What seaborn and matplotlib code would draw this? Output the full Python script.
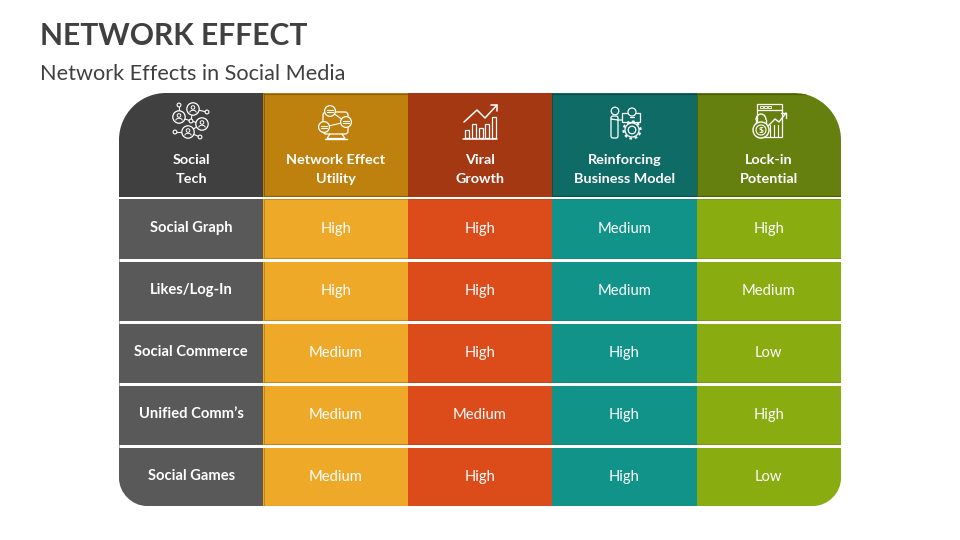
import numpy as np
import matplotlib
matplotlib.use("Agg")
import matplotlib.pyplot as plt
import seaborn as sns
from matplotlib.colors import ListedColormap
from matplotlib.patches import Circle, FancyBboxPatch, Rectangle, Arc
from matplotlib.path import Path

# === Table content ===
title = "NETWORK EFFECT"
subtitle = "Network Effects in Social Media"
headers = [
    "Social\nTech",
    "Network Effect\nUtility",
    "Viral\nGrowth",
    "Reinforcing\nBusiness Model",
    "Lock-in\nPotential",
]
social_tech = ["Social Graph", "Likes/Log-In", "Social Commerce", "Unified Comm\u2019s", "Social Games"]
utility = ["High", "High", "Medium", "Medium", "Medium"]
viral = ["High", "High", "High", "Medium", "High"]
business = ["Medium", "Medium", "High", "High", "High"]
lock_in = ["High", "Medium", "Low", "High", "Low"]

header_colors = ["#404040", "#BF810E", "#A33812", "#0F6B66", "#65800F"]
body_colors = ["#595959", "#EFA928", "#DB4C1A", "#119389", "#89AD11"]
edge_colors = ["#595959", "#C9860F", "#C8450F", "#0F8A80", "#7A9A0E"]
header_edges = ["#404040", "#8A6209", "#A33812", "#0A4F4B", "#4C600B"]

sns.set_theme(style="white")
plt.rcParams["font.family"] = ["Lato", "DejaVu Sans"]

fig = plt.figure(figsize=(9.6, 5.4), dpi=100)
W, H = 960, 540
LEFT, RIGHT = 119, 841


def px_axes(x0, y0, x1, y1):
    return fig.add_axes([x0 / W, 1 - y1 / H, (x1 - x0) / W, (y1 - y0) / H])


def rounded_outline(x0, y0, x1, y1, r_top, r_bottom):
    # rectangle in pixel coords with circular outer corners
    k = 0.45
    verts = [(x0 + r_top, y0), (x1 - r_top, y0)]
    codes = [Path.MOVETO, Path.LINETO]
    verts += [(x1 - r_top * k, y0), (x1, y0 + r_top * k), (x1, y0 + r_top)]
    verts += [(x1, y1 - r_bottom)]
    verts += [(x1, y1 - r_bottom * k), (x1 - r_bottom * k, y1), (x1 - r_bottom, y1)]
    verts += [(x0 + r_bottom, y1)]
    verts += [(x0 + r_bottom * k, y1), (x0, y1 - r_bottom * k), (x0, y1 - r_bottom)]
    verts += [(x0, y0 + r_top)]
    verts += [(x0, y0 + r_top * k), (x0 + r_top * k, y0), (x0 + r_top, y0)]
    verts += [(x0 + r_top, y0)]
    codes += [Path.CURVE4] * 3 + [Path.LINETO] + [Path.CURVE4] * 3 + [Path.LINETO]
    codes += [Path.CURVE4] * 3 + [Path.LINETO] + [Path.CURVE4] * 3 + [Path.CLOSEPOLY]
    return Path(verts, codes)


# overlay in pixel coordinates, for clip shapes, title and icons
overlay = fig.add_axes([0, 0, 1, 1], zorder=5)
overlay.set_xlim(0, W)
overlay.set_ylim(H, 0)
overlay.axis("off")

# === Header row ===
ax_head = px_axes(LEFT, 93, RIGHT, 197)
sns.heatmap(
    np.arange(5).reshape(1, 5),
    cmap=ListedColormap(header_colors),
    cbar=False,
    xticklabels=False,
    yticklabels=False,
    ax=ax_head,
)
head_clip = rounded_outline(LEFT, 93, RIGHT, 197, 47, 0)
ax_head.collections[0].set_clip_path(head_clip, transform=overlay.transData)
for i, label in enumerate(headers):
    # two lines placed one by one, the spacing is wider than the font's own
    for part, base in zip(label.split("\n"), [0.683, 0.868]):
        ax_head.text(i + 0.5, base, part, color="white", fontsize=10.4, fontweight="bold",
                     ha="center", va="baseline")
    # darker frame on the header cells
    if i > 0:
        frame = ax_head.hlines([0.006, 0.992], i, i + 1, color=header_edges[i], lw=0.9)
        frame.set_clip_path(head_clip, transform=overlay.transData)
        ax_head.vlines(i + 0.002, 0, 1, color=header_edges[i], lw=0.7)

# === Body rows ===
ratings = np.column_stack([social_tech, utility, viral, business, lock_in])
# axes run one gap past the last row, the clip shape cuts that part off
ax_body = px_axes(LEFT, 199, RIGHT, 509)
sns.heatmap(
    np.tile(np.arange(5), (5, 1)),
    cmap=ListedColormap(body_colors),
    cbar=False,
    annot=ratings,
    fmt="",
    annot_kws={"color": "white", "fontsize": 10.6},
    xticklabels=False,
    yticklabels=False,
    ax=ax_body,
)
body_clip = rounded_outline(LEFT, 199, RIGHT, 506, 0, 28)
ax_body.collections[0].set_clip_path(body_clip, transform=overlay.transData)
for t in ax_body.texts:
    x, y = t.get_position()
    t.set_y(y - 0.01)
    if x < 1:
        t.set_fontweight("bold")
        t.set_y(y - 0.026)

# thin darker frame round the cells, white gap between rows
for c in range(1, 5):
    under = ax_body.hlines(np.arange(5) + 0.944, c, c + 1, color=edge_colors[c], lw=0.8)
    under.set_clip_path(body_clip, transform=overlay.transData)
    ax_body.hlines(np.arange(5) + 0.006, c, c + 1, color=edge_colors[c], lw=0.6)
side = ax_body.vlines(1.002, 0, 5, color=edge_colors[1], lw=0.7)
side.set_clip_path(body_clip, transform=overlay.transData)
ax_body.hlines(np.arange(4) + 0.976, 0, 5, color="white", lw=2.16)

# === Title ===
overlay.text(40, 36, title, fontsize=21.6, fontweight="bold", color="#404040", ha="left", va="center")
overlay.text(40, 74, subtitle, fontsize=15.55, color="#404040", ha="left", va="center")


# === Line icons, drawn as plain strokes in white ===
def line(xs, ys, lw=1.0, zorder=2):
    overlay.plot(xs, ys, color="white", lw=lw, solid_capstyle="round", solid_joinstyle="round", zorder=zorder)


def ring(x, y, r, face="none", lw=1.0, **kw):
    overlay.add_patch(Circle((x, y), r, fc=face, ec="white", lw=lw, zorder=3, **kw))


def box(x, y, w, h, face="none", lw=1.0):
    overlay.add_patch(Rectangle((x, y), w, h, fc=face, ec="white", lw=lw, zorder=3))


# social tech: linked people
for a, b in [((179, 105), (179, 117)), ((193, 109), (207, 112)), ((179, 117), (191, 121)),
             ((191, 121), (202, 124)), ((193, 109), (191, 121)), ((175, 132), (188, 132)),
             ((188, 132), (200, 137)), ((202, 124), (188, 132))]:
    line([a[0], b[0]], [a[1], b[1]], 0.8)
for x, y in [(193, 109), (179, 117), (202, 124), (188, 132)]:
    ring(x, y, 6.2, face=header_colors[0], lw=0.9)
    ring(x, y - 1.5, 1.8, lw=0.7)
    overlay.add_patch(Arc((x, y + 3.5), 6.5, 4.5, theta1=180, theta2=360, ec="white", lw=0.7, zorder=4))
for x, y in [(179, 105), (207, 112), (175, 132), (200, 137), (191, 121)]:
    ring(x, y, 1.9, face=header_colors[0], lw=0.8)

# network effect utility: screen with chat bubbles
overlay.add_patch(FancyBboxPatch((323, 112), 25, 22, boxstyle="round,pad=0,rounding_size=3",
                                 fc="none", ec="white", lw=0.9, zorder=2))
line([325, 347], [138.5, 138.5], 1.0)
line([330, 327, 345, 342], [134, 138.5, 138.5, 134], 0.9)
line([330, 346, 324], [111, 122, 127], 0.8)
for x, y in [(330, 111), (346, 122), (324, 127)]:
    ring(x, y, 5.4, face=header_colors[1], lw=0.9)
    line([x - 3, x + 3], [y - 1.5, y - 1.5], 0.8, zorder=4)
    line([x - 3, x + 3], [y + 1, y + 1], 0.8, zorder=4)

# viral growth: bars and rising arrow
line([463, 497], [138.5, 138.5], 1.1)
for x, top in [(465, 130), (472, 124), (479, 128), (485, 124), (492, 117)]:
    box(x, top, 4, 138 - top, lw=0.9)
line([464, 477, 485, 497], [122, 110, 118, 105], 1.1)
line([491, 497, 497], [105, 105, 111], 1.1)

# reinforcing business model: presenter and gear
ring(615, 111, 3.8, lw=0.9)
overlay.add_patch(FancyBboxPatch((611, 116), 7, 22, boxstyle="round,pad=0,rounding_size=2",
                                 fc="none", ec="white", lw=0.9, zorder=3))
line([611, 618, 626], [119, 120, 120], 0.9)
box(622, 113, 18, 9, face=header_colors[3], lw=0.9)
ring(632, 112, 4, face=header_colors[3], lw=0.9)
line([630, 634], [117, 117], 0.9, zorder=4)
ring(632, 130, 7, face=header_colors[3], lw=0.9)
ring(632, 130, 8.5, lw=1.6, ls=(0, (1.2, 1.2)))
ring(632, 130, 3.8, lw=0.9)

# lock-in potential: browser window, padlock and chart arrow
box(757, 104, 25, 33, lw=0.9)
line([757, 782], [110, 110], 0.9)
for x in [760, 764, 768]:
    box(x, 106, 2.6, 2, lw=0.6)
for x in [770, 774, 778]:
    line([x, x], [125, 137], 0.8)
overlay.add_patch(Arc((761, 120), 10, 12, theta1=180, theta2=360, ec="white", lw=1.0, zorder=3))
line([756, 756], [120, 124], 1.0)
line([766, 766], [120, 124], 1.0)
ring(761, 130, 8, face=header_colors[4], lw=1.0)
ring(761, 130, 5, lw=0.8)
overlay.text(761, 130.5, "\\$", color="white", fontsize=6, fontweight="bold", ha="center", va="center", zorder=4)
line([768, 775, 779, 786], [126, 119, 122, 113], 1.0)
line([781, 786, 786], [113, 113, 118], 1.0)

fig.savefig("out.png", dpi=100)
